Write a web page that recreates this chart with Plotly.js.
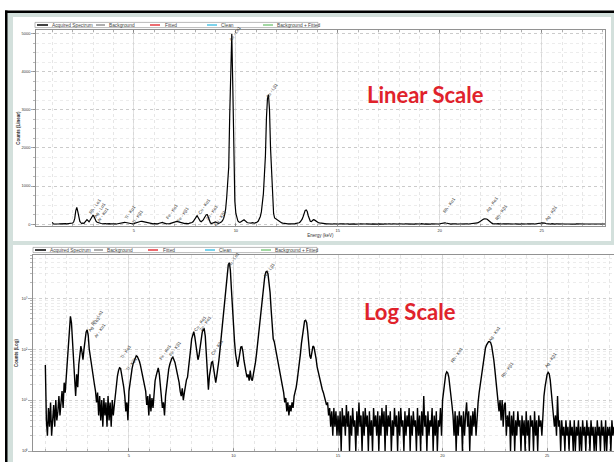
<!DOCTYPE html>
<html>
<head>
<meta charset="utf-8">
<script src="https://cdn.plot.ly/plotly-3.0.1.min.js"></script>
<style>html,body{margin:0;padding:0;overflow:hidden;background:#fff}</style>
</head>
<body>
<div id="chart" style="width:614px;height:462px"></div>
<script>
// ---------- DATA ----------
const energyStart = 1.0;     // keV, first channel shown
const channelWidth = 0.05;   // keV per channel
// counts; one line = 1 keV (20 channels)
const counts1to5 = [
  49,4,2,7,3,9,2,5,8,3, 10,4,6,12,5,9,15,7,22,14,
  28,60,150,350,440,330,150,70,40,12, 32,18,50,80,115,90,62,100,160,215,
  240,190,100,70,48,35,26,20,15,9, 14,5,12,4,10,3,11,5,9,3,
  12,4,9,3,10,5,8,14,22,30, 38,43,42,33,26,18,12,6,9,4];
const counts5to10 = [
  15,22,32,42,52,60,67,74,72,66, 58,48,39,30,25,19,15,8,12,5,
  13,6,11,7,16,24,30,38,43,33, 20,12,7,9,5,12,20,30,40,50,
  60,66,70,63,55,44,35,28,22,15, 12,17,10,14,20,25,28,40,60,100,
  160,205,220,175,120,80,62,75,110,160, 210,245,250,180,90,35,16,30,45,55,
  57,42,28,22,30,40,60,95,150,250, 400,700,1200,1500,2900,4500,5000,3600,1500,600];
const counts10to15 = [
  280,140,80,55,45,60,85,110,112,90, 60,42,35,28,32,24,38,26,24,32,
  40,55,80,130,200,320,500,800,1300,1800, 2800,3300,3400,3000,2000,1300,600,280,160,140,
  110,90,70,50,40,30,25,18,14,9, 11,6,9,5,8,6,9,7,12,14,
  18,25,35,55,80,130,200,290,360,370, 330,220,120,75,65,90,115,110,90,65,
  45,36,30,24,20,16,14,11,10,8, 9,5,7,3,6,2,7,3,6,2];
const counts15to20 = [
  5,2,6,1,7,3,5,2,8,3, 6,1,5,2,7,3,4,1,6,2,
  9,3,5,1,6,2,7,3,5,1, 6,2,4,1,7,3,5,2,6,1,
  5,2,7,3,6,1,8,2,5,3, 6,1,4,2,7,3,5,1,6,2,
  7,3,4,1,6,2,5,3,7,1, 5,2,6,3,4,1,7,2,5,1,
  6,2,12,3,5,1,6,2,4,3, 7,1,5,2,6,1,4,3,7,2];
const counts20to25 = [
  10,16,25,32,36,34,28,20,13,8, 5,2,6,1,5,2,6,3,5,1,
  6,2,5,9,3,6,1,5,2,6, 3,7,2,6,9,14,20,30,45,65,
  85,105,120,132,140,140,135,115,90,62, 40,24,14,9,6,10,4,10,3,8,
  9,2,5,3,6,1,5,2,6,1, 4,2,6,3,4,1,5,2,4,1,
  6,2,4,1,5,3,4,1,6,2, 4,1,5,3,4,2,8,12,18,26];
const counts25to28 = [
  32,35,33,25,15,9,6,3,5,2, 12,3,4,1,4,2,3,1,4,2,
  3,1,4,2,3,1,4,1,3,2, 4,1,3,1,4,2,3,1,4,2,
  3,1,4,2,3,1,3,1,4,2, 3,1,4,2,3,1,4,1,3,2,
  3,1,4,2,3];
const counts = [].concat(counts1to5, counts5to10, counts10to15, counts15to20, counts20to25, counts25to28);

const legendNames = ['Acquired Spectrum','Background','Fitted','Clean','Background + Fitted'];
const peakNames = ['Rh - Lα1','Ag - Lα1','Ar - Kα1','Ti - Kα1','Ti - Kβ1','Fe - Kα1','Fe - Kβ1',
  'Cu - Kα1','Zn - Kα1','Cu - Kβ1','Au - Lα1','Au - Lβ1','Rh - Kα1','Ag - Kα1','Rh - Kβ1','Ag - Kβ1'];
const linTicks = [0,1000,2000,3000,4000,5000];
const logTicks = [1,10,100,1000];
const logTickText = ['10⁰','10¹','10²','10³'];
const energyTicks = [5,10,15,20,25];

// ---------- STYLE / LAYOUT ----------
const W = 614, H = 462;
const X = p => p / W, Y = p => 1 - p / H;
const legendColors = ['#111111','#9a9a9a','#e8474c','#5bc8e8','#8ccf8c'];
const legendLineX = [[37,48],[96,105],[150,160],[207,217],[263,273]];
const legendTextX = [50,107,163,219,275];

// label anchor positions (energy, counts) for linear, (energy, log10 counts) for log
const labPosLin = [[3.1,450],[3.3,370],[3.5,240],[4.8,315],[5.2,190],[6.86,340],[7.4,260],
  [8.43,475],[8.82,315],[9.2,160],[9.95,5020],[11.76,3520],[20.44,500],[22.55,525],[23.0,315],[25.44,290]];
const labPosLog = [[3.47,2.63],[3.33,2.48],[3.62,2.36],[4.86,1.95],[5.15,1.71],[6.73,1.93],[7.2,2.02],
  [8.4,2.51],[8.66,2.50],[9.2,2.04],[10.0,3.76],[11.7,3.54],[20.7,1.89],[22.5,2.3],[23.1,1.61],[25.2,1.79]];

const tickFont = {family:'Liberation Sans, Arial, sans-serif', size:4, color:'#333'};
const traces = [
  {type:'scatter', mode:'lines', x0:energyStart, dx:channelWidth, y:counts, xaxis:'x', yaxis:'y',
   line:{color:'#000', width:1.2}, name:legendNames[0], showlegend:false, hoverinfo:'skip'},
  {type:'scatter', mode:'lines', x0:energyStart, dx:channelWidth, y:counts, xaxis:'x2', yaxis:'y2',
   line:{color:'#000', width:1.4}, name:legendNames[0], showlegend:false, hoverinfo:'skip'}
];

const shapes = [
  {type:'rect', xref:'paper', yref:'paper', x0:X(7), x1:X(614), y0:Y(462), y1:Y(12.5), fillcolor:'#d3e0dc', line:{width:0}, layer:'below'},
  {type:'rect', xref:'paper', yref:'paper', x0:X(5), x1:X(614), y0:Y(13), y1:Y(10.5), fillcolor:'#000', line:{width:0}, layer:'below'},
  {type:'rect', xref:'paper', yref:'paper', x0:X(5), x1:X(7.5), y0:Y(462), y1:Y(10.5), fillcolor:'#000', line:{width:0}, layer:'below'},
  {type:'rect', xref:'paper', yref:'paper', x0:X(13), x1:X(611), y0:Y(241), y1:Y(17), fillcolor:'#fff', line:{width:0}, layer:'below'},
  {type:'rect', xref:'paper', yref:'paper', x0:X(13), x1:X(614), y0:Y(462), y1:Y(245), fillcolor:'#fff', line:{width:0}, layer:'below'}
];
const annotations = [];
function addLegend(boxX0, boxX1, yc, dx) {
  shapes.push({type:'rect', xref:'paper', yref:'paper', x0:X(boxX0), x1:X(boxX1), y0:Y(yc+2.6), y1:Y(yc-2.6),
    fillcolor:'#fff', line:{color:'#8a8a8a', width:0.6}});
  legendNames.forEach((n,i) => {
    shapes.push({type:'line', xref:'paper', yref:'paper', x0:X(legendLineX[i][0]+dx), x1:X(legendLineX[i][1]+dx),
      y0:Y(yc), y1:Y(yc), line:{color:legendColors[i], width:1.6}});
    annotations.push({xref:'paper', yref:'paper', x:X(legendTextX[i]+dx), y:Y(yc), text:n, showarrow:false,
      xanchor:'left', yanchor:'middle', font:{family:'Liberation Sans, Arial, sans-serif', size:4.8, color:'#444'}});
  });
}
addLegend(35, 318, 25, 0);
addLegend(33, 317, 250, -2);

peakNames.forEach((n,i) => {
  annotations.push({xref:'x', yref:'y', x:labPosLin[i][0], y:labPosLin[i][1], text:n, showarrow:false,
    xanchor:'center', yanchor:'middle',
    textangle:-55, font:{family:'Liberation Sans, Arial, sans-serif', size:4.4, color:'#333'}});
  annotations.push({xref:'x2', yref:'y2', x:labPosLog[i][0], y:labPosLog[i][1], text:n, showarrow:false,
    xanchor:'center', yanchor:'middle',
    textangle:-55, font:{family:'Liberation Sans, Arial, sans-serif', size:4.4, color:'#333'}});
});
annotations.push({xref:'paper', yref:'paper', x:X(425), y:Y(95), xanchor:'center', yanchor:'middle',
  text:'Linear Scale', showarrow:false,
  font:{family:'Lato, Open Sans, sans-serif', size:22, color:'#e0222b', weight:'bold'}});
annotations.push({xref:'paper', yref:'paper', x:X(410), y:Y(311), xanchor:'center', yanchor:'middle',
  text:'Log Scale', showarrow:false,
  font:{family:'Lato, Open Sans, sans-serif', size:22, color:'#e0222b', weight:'bold'}});

const xCommon = {
  showline:true, linecolor:'#777', linewidth:0.8, ticks:'inside', ticklen:3, tickcolor:'#777', tickwidth:0.6,
  tickmode:'array', tickvals:energyTicks, tickfont:tickFont, showgrid:true, gridcolor:'#cfcfcf', gridwidth:0.6,
  zeroline:false,
  minor:{dtick:1, tick0:0, showgrid:true, gridcolor:'#d6d6d6', griddash:'dot', gridwidth:0.6, ticks:'inside', ticklen:2, tickcolor:'#888'}
};
const layout = {
  width:W, height:H, autosize:false, margin:{l:0,r:0,t:0,b:0},
  paper_bgcolor:'#fff', plot_bgcolor:'#fff', showlegend:false,
  font:{family:'Liberation Sans, Arial, sans-serif', color:'#333'},
  xaxis: Object.assign({}, xCommon, {domain:[X(36), X(605)], range:[0.2, 28.1], anchor:'y', mirror:'ticks',
    title:{text:'Energy (keV)', font:{size:4.5, color:'#333'}, standoff:2}}),
  yaxis: {domain:[Y(226), Y(30)], range:[-50, 5100], anchor:'x', tickmode:'array', tickvals:linTicks,
    showline:true, linecolor:'#777', linewidth:0.8, mirror:true, ticks:'outside', ticklen:4, tickcolor:'#777', tickwidth:0.6,
    tickfont:tickFont, showgrid:true, gridcolor:'#bdbdbd', griddash:'dot', gridwidth:0.7, zeroline:false,
    minor:{dtick:250, tick0:0, showgrid:true, gridcolor:'#dadada', griddash:'dot', gridwidth:0.5, ticks:'outside', ticklen:2, tickcolor:'#888'},
    title:{text:'<b>Counts (Linear)</b>', font:{size:4.5, color:'#333'}, standoff:0}},
  xaxis2: Object.assign({}, xCommon, {domain:[X(33), 1], range:[0.41, 28.2], anchor:'y2', mirror:true}),
  yaxis2: {type:'log', domain:[Y(451), Y(255)], range:[0, 3.85], anchor:'x2', tickmode:'array', tickvals:logTicks, ticktext:logTickText,
    showline:true, linecolor:'#777', linewidth:0.8, ticks:'outside', ticklen:4, tickcolor:'#777', tickwidth:0.6,
    tickfont:tickFont, showgrid:true, gridcolor:'#bdbdbd', griddash:'dot', gridwidth:0.7, zeroline:false,
    minor:{tickmode:'array', tickvals:[2,3,4,5,6,7,8,9,20,30,40,50,60,70,80,90,200,300,400,500,600,700,800,900,2000,3000,4000,5000,6000,7000],
      showgrid:true, gridcolor:'#dadada', griddash:'dot', gridwidth:0.5, ticks:'outside', ticklen:2, tickcolor:'#888'},
    title:{text:'<b>Counts (Log)</b>', font:{size:4.5, color:'#333'}, standoff:2}},
  shapes:shapes, annotations:annotations
};
Plotly.newPlot('chart', traces, layout, {staticPlot:true, displayModeBar:false});
</script>
</body>
</html>
